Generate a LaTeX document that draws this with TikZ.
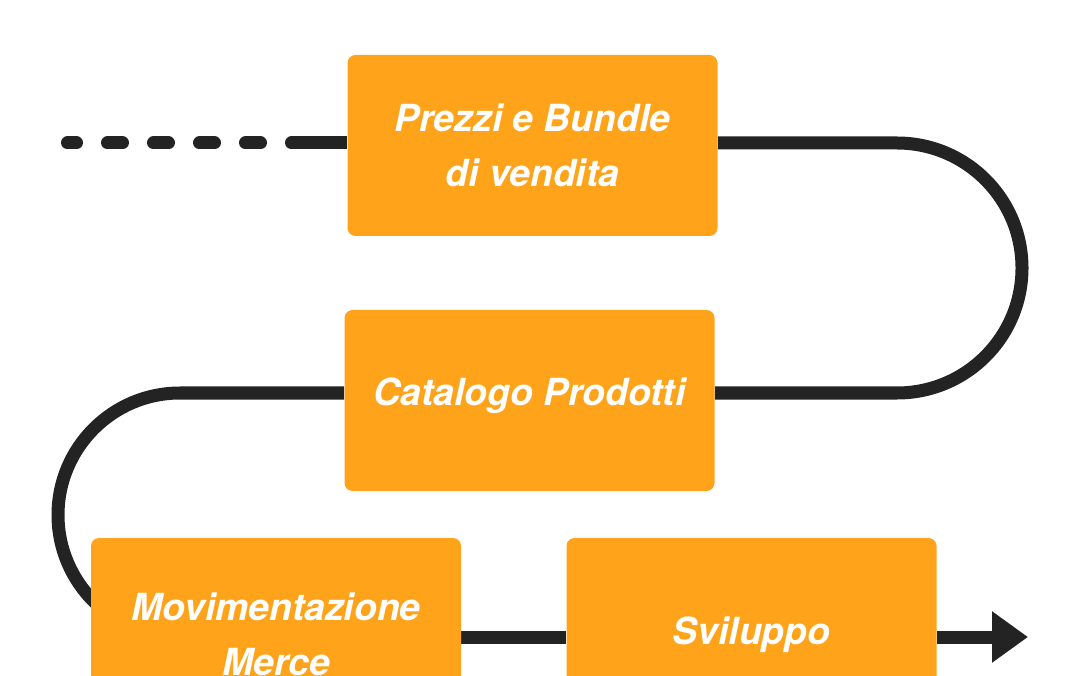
\documentclass[tikz,border=0pt]{standalone}
\usepackage{fontspec}
\setmainfont{TeX Gyre Heros}
\usetikzlibrary{arrows.meta,backgrounds}
\definecolor{boxorange}{HTML}{FFA41A}
\definecolor{wiregray}{HTML}{232323}
\tikzset{
  box/.style={fill=boxorange, rounded corners=6pt, minimum width=277.5pt,
    minimum height=135.75pt, inner sep=0pt, text=white, align=center,
    font=\fontsize{28}{41}\selectfont\bfseries\itshape},
  lowbox/.style={box, minimum height=144.75pt},
  wire/.style={draw=wiregray, line width=9.75pt},
  dots/.style={wire, line cap=round, dash pattern=on 11.25pt off 23.25pt, dash phase=4.5pt}
}

\begin{document}
\begin{tikzpicture}[x=0.75pt,y=0.75pt]
\useasboundingbox (0,0) rectangle (1080,675);

\node[box] (prezzi) at (532.5,529.5) {Prezzi e Bundle\\di vendita};

\node[box] (catalogo) at (529.5,274.5) {\raisebox{3.75pt}[\height][\depth]{Catalogo Prodotti}};

\node[lowbox] (merce) at (276,40.5) {Movimentazione\\Merce};

\node[lowbox] (sviluppo) at (751.5,40.5) {Sviluppo};

\coordinate (start) at (67.5,532);
\coordinate (join) at (300,532);
\coordinate (bendR) at (897,532);
\coordinate (bendL) at (180,282);
\coordinate (low) at (180,38);
\coordinate (tip) at (1028,38);

\begin{scope}[on background layer]
\draw[dots] (start) -- (join);
\draw[wire] (join) -- (prezzi.west |- join);
\draw[wire] (prezzi.east |- bendR) -- (bendR)
  arc[start angle=90, end angle=-90, radius=125] -- (catalogo.east |- bendL);
\draw[wire] (catalogo.west |- bendL) -- (bendL)
  arc[start angle=90, end angle=270, radius=122] -- (merce.center |- low);
\draw[wire] (merce.east |- low) -- (sviluppo.west |- low);
\draw[wire, -{Triangle[length=27pt, width=36.75pt]}] (sviluppo.east |- low) -- (tip);
\end{scope}

\end{tikzpicture}
\end{document}
